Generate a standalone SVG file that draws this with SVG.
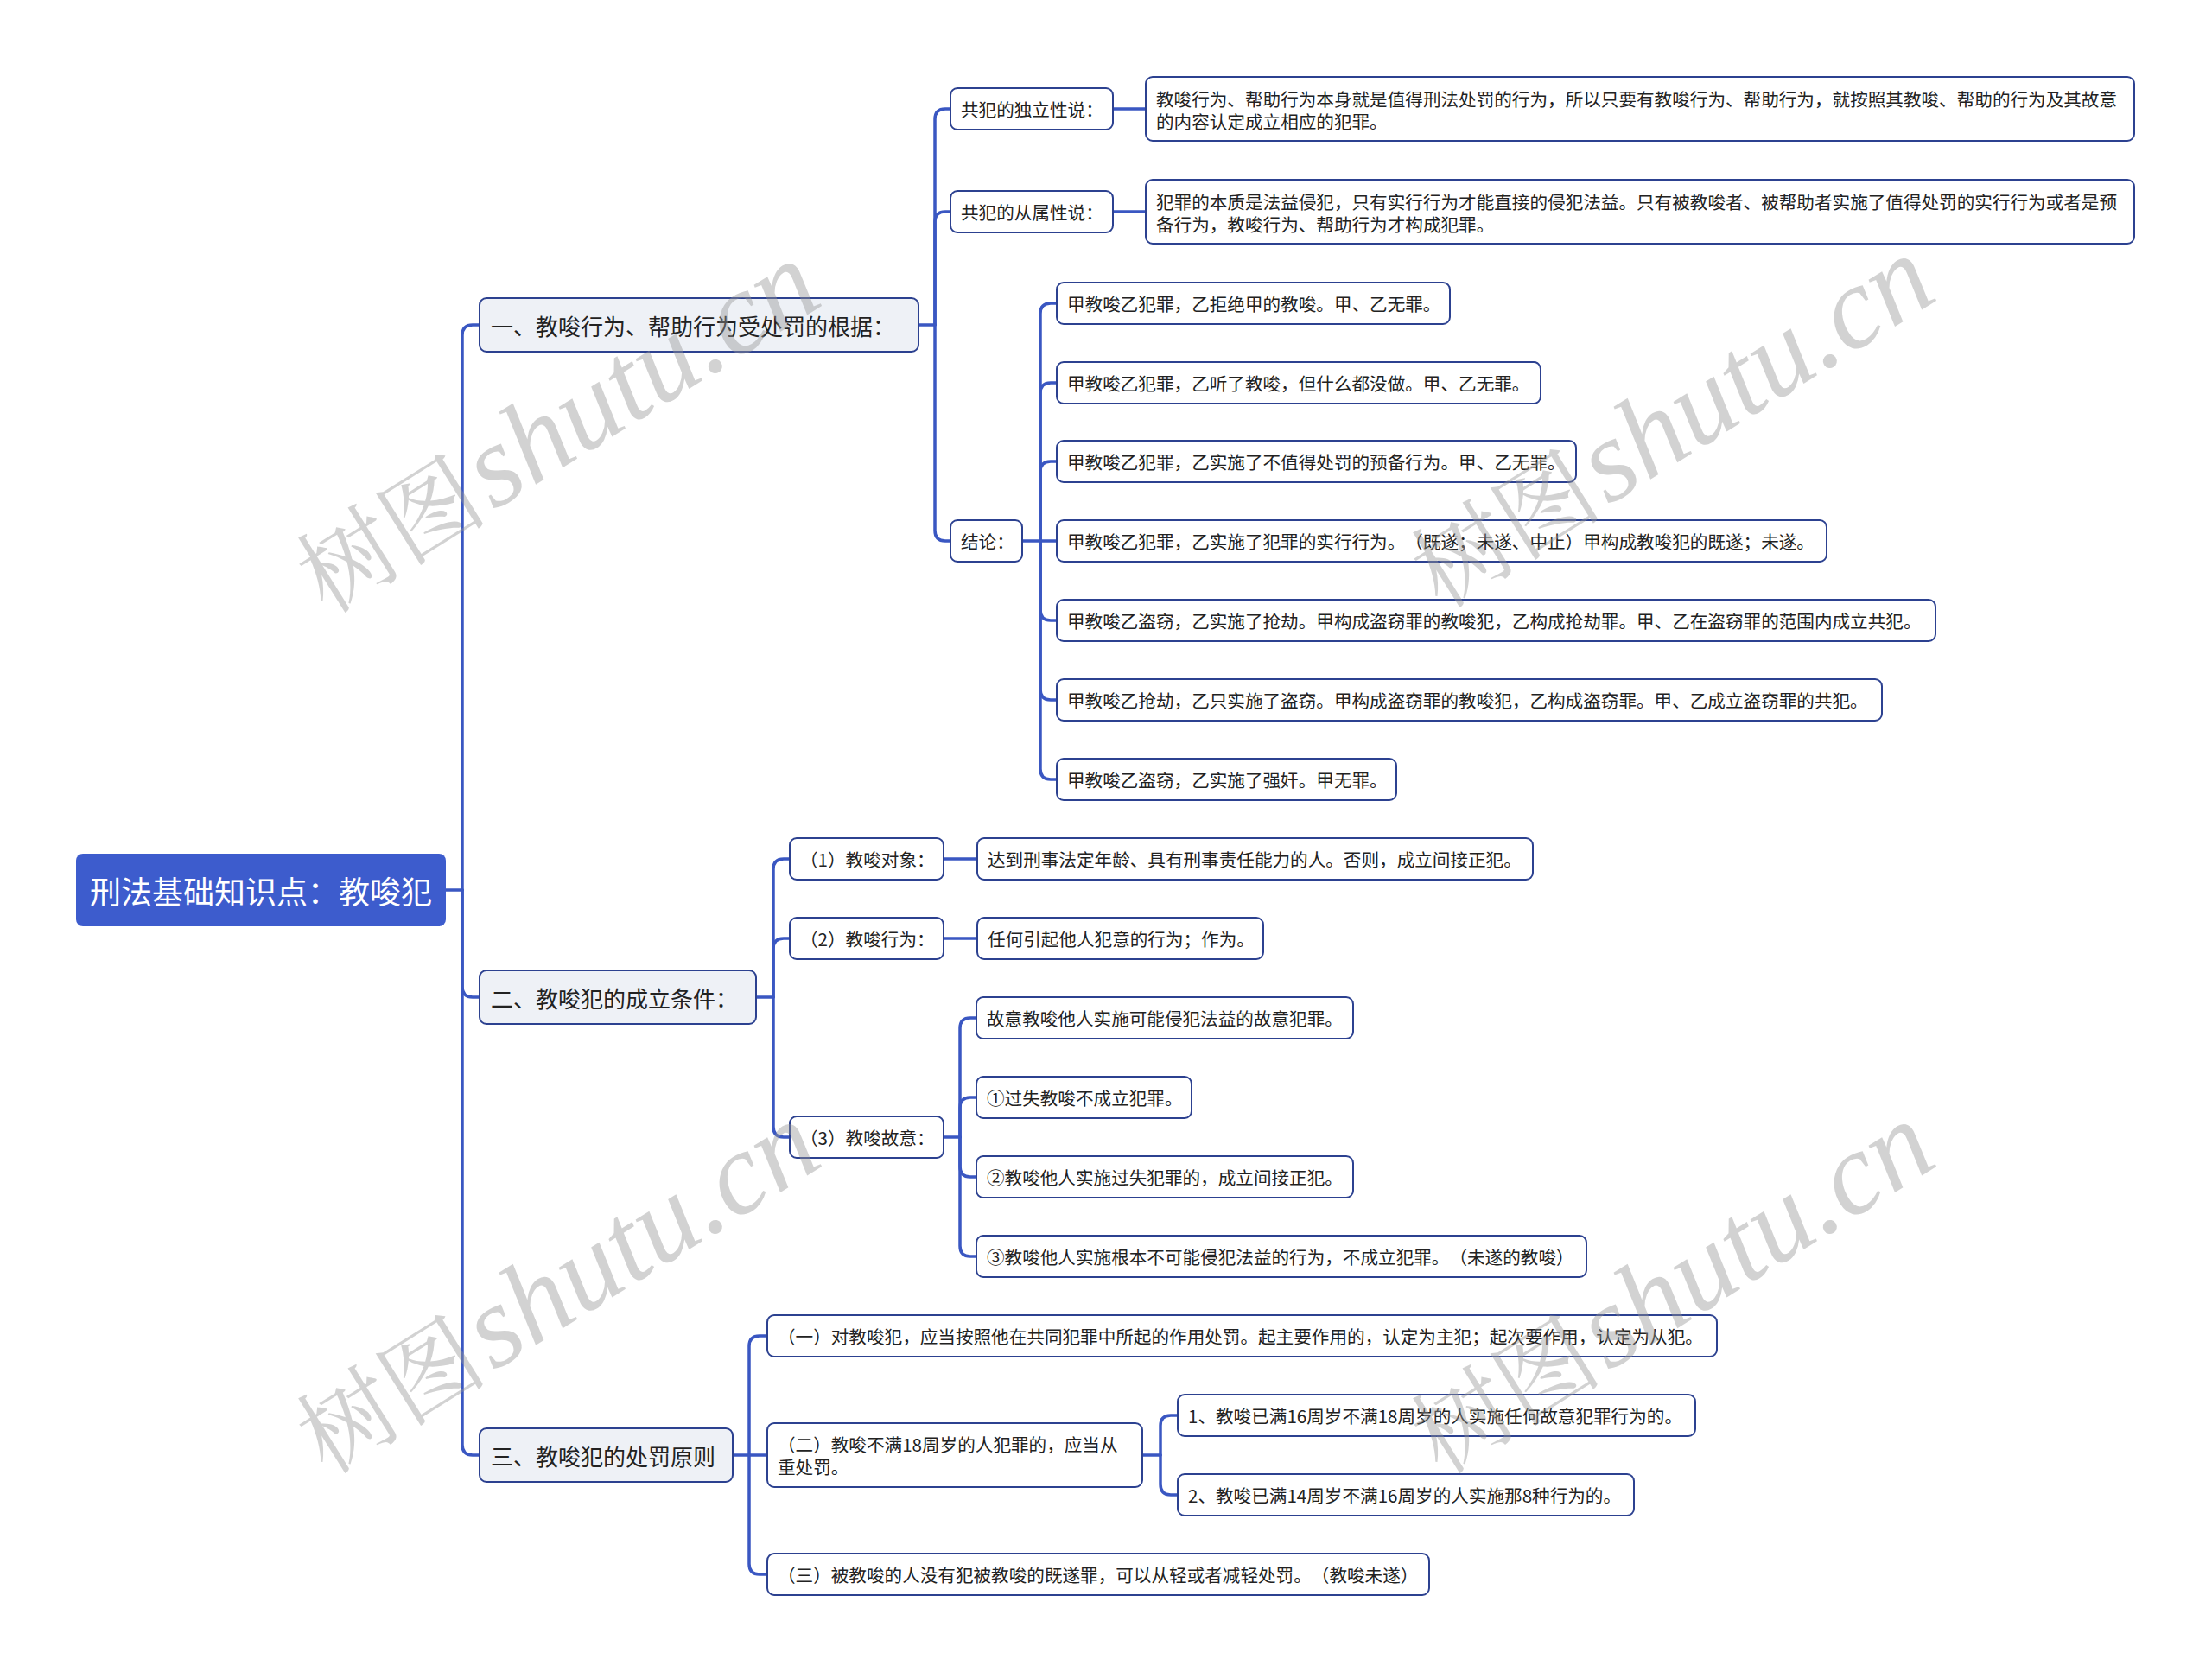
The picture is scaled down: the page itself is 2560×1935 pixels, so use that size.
<svg xmlns="http://www.w3.org/2000/svg" width="2560" height="1935" viewBox="0 0 2560 1935">
<style>
.bg{fill:#ffffff}
.n rect{fill:#ffffff;stroke:#2c4190;stroke-width:2}
.l1 rect{fill:#eef1f6;stroke:#2c4190;stroke-width:2}
.root rect{fill:#3d5ccd;stroke:none}
text{font-family:"Noto Sans CJK SC","Noto Sans",sans-serif;dominant-baseline:central;fill:#222222;text-spacing-trim:space-all;font-kerning:none}
.t{font-size:20.6px}
.t1{font-size:26px}
.rt{font-size:36px;fill:#ffffff}
.c path{fill:none;stroke:#3a57c2;stroke-width:3.5;stroke-linecap:round;stroke-linejoin:round}
.wm{font-family:"Liberation Serif","Noto Serif CJK SC","Noto Sans CJK SC",serif;font-size:135px;font-style:italic;fill:#969696;opacity:0.42;dominant-baseline:alphabetic}
.wm .zh{font-size:111px;font-style:normal}
</style>
<rect class="bg" x="0" y="0" width="2560" height="1935"/>
<g id="connectors" class="c">
<path d="M516,1030 H535"/>
<path d="M535,1030 V388 Q535,376 547,376 H555"/>
<path d="M535,1030 V1142 Q535,1154 547,1154 H555"/>
<path d="M535,1030 V1672 Q535,1684 547,1684 H555"/>
<path d="M1063,376 H1082"/>
<path d="M1082,376 V138 Q1082,126 1094,126 H1100"/>
<path d="M1082,376 V257 Q1082,245 1094,245 H1100"/>
<path d="M1082,376 V614 Q1082,626 1094,626 H1100"/>
<path d="M1288,126 H1326"/>
<path d="M1288,245 H1326"/>
<path d="M1183,626 H1204"/>
<path d="M1204,626 V363 Q1204,351 1216,351 H1223"/>
<path d="M1204,626 V455 Q1204,443 1216,443 H1223"/>
<path d="M1204,626 V546 Q1204,534 1216,534 H1223"/>
<path d="M1204,626 H1223"/>
<path d="M1204,626 V706 Q1204,718 1216,718 H1223"/>
<path d="M1204,626 V798 Q1204,810 1216,810 H1223"/>
<path d="M1204,626 V890 Q1204,902 1216,902 H1223"/>
<path d="M875,1154 H895"/>
<path d="M895,1154 V1006 Q895,994 907,994 H914"/>
<path d="M895,1154 V1098 Q895,1086 907,1086 H914"/>
<path d="M895,1154 V1304 Q895,1316 907,1316 H914"/>
<path d="M1092,994 H1131"/>
<path d="M1092,1086 H1131"/>
<path d="M1092,1316 H1111"/>
<path d="M1111,1316 V1190 Q1111,1178 1123,1178 H1130"/>
<path d="M1111,1316 V1282 Q1111,1270 1123,1270 H1130"/>
<path d="M1111,1316 V1350 Q1111,1362 1123,1362 H1130"/>
<path d="M1111,1316 V1442 Q1111,1454 1123,1454 H1130"/>
<path d="M848,1684 H867"/>
<path d="M867,1684 V1558 Q867,1546 879,1546 H888"/>
<path d="M867,1684 H888"/>
<path d="M867,1684 V1810 Q867,1822 879,1822 H888"/>
<path d="M1322,1684 H1343"/>
<path d="M1343,1684 V1650 Q1343,1638 1355,1638 H1363"/>
<path d="M1343,1684 V1718 Q1343,1730 1355,1730 H1363"/>
</g>
<g id="root" class="root"><rect x="88" y="988" width="428" height="84" rx="8"/><text class="rt" x="302" y="1030" text-anchor="middle">刑法基础知识点：教唆犯</text></g>
<g id="l1a" class="l1"><rect x="555" y="345" width="508" height="62" rx="8"/><text class="t1" x="568" y="376">一、教唆行为、帮助行为受处罚的根据：</text></g>
<g id="l1b" class="l1"><rect x="555" y="1123" width="320" height="62" rx="8"/><text class="t1" x="568" y="1154">二、教唆犯的成立条件：</text></g>
<g id="l1c" class="l1"><rect x="555" y="1653" width="293" height="62" rx="8"/><text class="t1" x="568" y="1684">三、教唆犯的处罚原则</text></g>
<g id="a1" class="n"><rect x="1100" y="102" width="188" height="48" rx="8"/><text class="t" x="1112" y="126">共犯的独立性说：</text></g>
<g id="a1x" class="n"><rect x="1326" y="89" width="1144" height="74" rx="8"/><text class="t" x="1338" y="114">教唆行为、帮助行为本身就是值得刑法处罚的行为，所以只要有教唆行为、帮助行为，就按照其教唆、帮助的行为及其故意</text><text class="t" x="1338" y="140">的内容认定成立相应的犯罪。</text></g>
<g id="a2" class="n"><rect x="1100" y="221" width="188" height="48" rx="8"/><text class="t" x="1112" y="245">共犯的从属性说：</text></g>
<g id="a2x" class="n"><rect x="1326" y="208" width="1144" height="74" rx="8"/><text class="t" x="1338" y="233">犯罪的本质是法益侵犯，只有实行行为才能直接的侵犯法益。只有被教唆者、被帮助者实施了值得处罚的实行行为或者是预</text><text class="t" x="1338" y="259">备行为，教唆行为、帮助行为才构成犯罪。</text></g>
<g id="a3" class="n"><rect x="1100" y="602" width="83" height="48" rx="8"/><text class="t" x="1112" y="626">结论：</text></g>
<g id="c1" class="n"><rect x="1223" y="327" width="455" height="48" rx="8"/><text class="t" x="1235" y="351">甲教唆乙犯罪，乙拒绝甲的教唆。甲、乙无罪。</text></g>
<g id="c2" class="n"><rect x="1223" y="419" width="560" height="48" rx="8"/><text class="t" x="1235" y="443">甲教唆乙犯罪，乙听了教唆，但什么都没做。甲、乙无罪。</text></g>
<g id="c3" class="n"><rect x="1223" y="510" width="601" height="48" rx="8"/><text class="t" x="1235" y="534">甲教唆乙犯罪，乙实施了不值得处罚的预备行为。甲、乙无罪。</text></g>
<g id="c4" class="n"><rect x="1223" y="602" width="891" height="48" rx="8"/><text class="t" x="1235" y="626">甲教唆乙犯罪，乙实施了犯罪的实行行为。（既遂；未遂、中止）甲构成教唆犯的既遂；未遂。</text></g>
<g id="c5" class="n"><rect x="1223" y="694" width="1017" height="48" rx="8"/><text class="t" x="1235" y="718">甲教唆乙盗窃，乙实施了抢劫。甲构成盗窃罪的教唆犯，乙构成抢劫罪。甲、乙在盗窃罪的范围内成立共犯。</text></g>
<g id="c6" class="n"><rect x="1223" y="786" width="955" height="48" rx="8"/><text class="t" x="1235" y="810">甲教唆乙抢劫，乙只实施了盗窃。甲构成盗窃罪的教唆犯，乙构成盗窃罪。甲、乙成立盗窃罪的共犯。</text></g>
<g id="c7" class="n"><rect x="1223" y="878" width="393" height="48" rx="8"/><text class="t" x="1235" y="902">甲教唆乙盗窃，乙实施了强奸。甲无罪。</text></g>
<g id="b1" class="n"><rect x="914" y="970" width="178" height="48" rx="8"/><text class="t" x="926" y="994">（1）教唆对象：</text></g>
<g id="b1x" class="n"><rect x="1131" y="970" width="643" height="48" rx="8"/><text class="t" x="1143" y="994">达到刑事法定年龄、具有刑事责任能力的人。否则，成立间接正犯。</text></g>
<g id="b2" class="n"><rect x="914" y="1062" width="178" height="48" rx="8"/><text class="t" x="926" y="1086">（2）教唆行为：</text></g>
<g id="b2x" class="n"><rect x="1131" y="1062" width="331" height="48" rx="8"/><text class="t" x="1143" y="1086">任何引起他人犯意的行为；作为。</text></g>
<g id="b3" class="n"><rect x="914" y="1292" width="178" height="48" rx="8"/><text class="t" x="926" y="1316">（3）教唆故意：</text></g>
<g id="b3a" class="n"><rect x="1130" y="1154" width="436" height="48" rx="8"/><text class="t" x="1142" y="1178">故意教唆他人实施可能侵犯法益的故意犯罪。</text></g>
<g id="b3b" class="n"><rect x="1130" y="1246" width="249" height="48" rx="8"/><text class="t" x="1142" y="1270">①过失教唆不成立犯罪。</text></g>
<g id="b3c" class="n"><rect x="1130" y="1338" width="436" height="48" rx="8"/><text class="t" x="1142" y="1362">②教唆他人实施过失犯罪的，成立间接正犯。</text></g>
<g id="b3d" class="n"><rect x="1130" y="1430" width="706" height="48" rx="8"/><text class="t" x="1142" y="1454">③教唆他人实施根本不可能侵犯法益的行为，不成立犯罪。（未遂的教唆）</text></g>
<g id="d1" class="n"><rect x="888" y="1522" width="1099" height="48" rx="8"/><text class="t" x="900" y="1546">（一）对教唆犯，应当按照他在共同犯罪中所起的作用处罚。起主要作用的，认定为主犯；起次要作用，认定为从犯。</text></g>
<g id="d2" class="n"><rect x="888" y="1647" width="434" height="74" rx="8"/><text class="t" x="900" y="1671">（二）教唆不满18周岁的人犯罪的，应当从</text><text class="t" x="900" y="1697">重处罚。</text></g>
<g id="d2a" class="n"><rect x="1363" y="1614" width="599" height="48" rx="8"/><text class="t" x="1375" y="1638">1、教唆已满16周岁不满18周岁的人实施任何故意犯罪行为的。</text></g>
<g id="d2b" class="n"><rect x="1363" y="1706" width="528" height="48" rx="8"/><text class="t" x="1375" y="1730">2、教唆已满14周岁不满16周岁的人实施那8种行为的。</text></g>
<g id="d3" class="n"><rect x="888" y="1798" width="766" height="48" rx="8"/><text class="t" x="900" y="1822">（三）被教唆的人没有犯被教唆的既遂罪，可以从轻或者减轻处罚。（教唆未遂）</text></g>
<g id="watermarks">
<text class="wm" transform="translate(378,712) rotate(-32)"><tspan class="zh">树图</tspan><tspan dx="6">shutu.cn</tspan></text>
<text class="wm" transform="translate(1668,706) rotate(-32)"><tspan class="zh">树图</tspan><tspan dx="6">shutu.cn</tspan></text>
<text class="wm" transform="translate(378,1708) rotate(-32)"><tspan class="zh">树图</tspan><tspan dx="6">shutu.cn</tspan></text>
<text class="wm" transform="translate(1668,1708) rotate(-32)"><tspan class="zh">树图</tspan><tspan dx="6">shutu.cn</tspan></text>
</g>
</svg>
